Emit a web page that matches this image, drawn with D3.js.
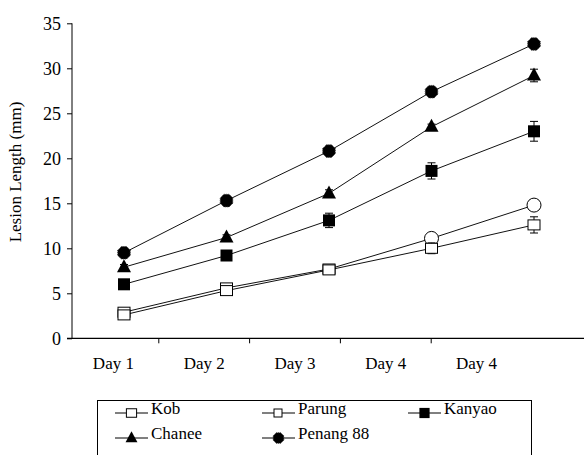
<html>
<head>
<script src="https://d3js.org/d3.v7.min.js"></script>
<style>
  body { margin: 0; background: #fff; }
  text { font-family: "Liberation Serif", "Times New Roman", serif; fill: #000; }
</style>
</head>
<body>
<script>
// data (mm)
var days = ["Day 1", "Day 2", "Day 3", "Day 4", "Day 4"];
var yTicks = [0, 5, 10, 15, 20, 25, 30, 35];

var seriesNames = ["Kob", "Parung", "Kanyao", "Chanee", "Penang 88"];
var kob      = [2.9, 5.6, 7.7, 11.1, 14.8];
var parung   = [2.6, 5.3, 7.6, 10.0, 12.6];
var kanyao   = [6.0, 9.2, 13.1, 18.6, 23.0];
var chanee   = [7.9, 11.2, 16.1, 23.5, 29.2];
var penang   = [9.5, 15.3, 20.8, 27.4, 32.7];

var kobErr    = [0.4, 0.4, 0.2, 0.4, 0.3];
var parungErr = [0.3, 0.4, 0.2, 0.6, 0.9];
var kanyaoErr = [0.3, 0.3, 0.8, 0.9, 1.1];
var chaneeErr = [0.3, 0.3, 0.4, 0.3, 0.7];
var penangErr = [0.4, 0.5, 0.4, 0.4, 0.4];

var allValues = [kob, parung, kanyao, chanee, penang];
var allErrors = [kobErr, parungErr, kanyaoErr, chaneeErr, penangErr];
var markers = ["openSquare", "openSquare", "square", "triangle", "octagon"];
// Kob's last two points use an open circle in the original
var kobPointMarkers = ["openSquare", "openSquare", "openSquare", "openCircle", "openCircle"];

var W = 584, H = 455;
var svg = d3.select("body").append("svg").attr("width", W).attr("height", H);

var y = d3.scaleLinear().domain([0, 35]).range([338.3, 23.3]);
var xAxisBand = d3.scaleBand().domain(d3.range(days.length)).range([68, 522]);
var xPts = d3.scalePoint().domain(d3.range(days.length)).range([124, 534]);

// y axis
var yAxis = svg.append("g").attr("transform", "translate(72,0)")
  .call(d3.axisLeft(y).tickValues(yTicks).tickSize(5).tickPadding(6));
yAxis.select(".domain").attr("stroke", "#000").attr("d", "M0," + y(35) + "V" + y(0));
yAxis.selectAll("text").style("font-size", "18px").attr("dy", "0.34em");

// x axis
var xg = svg.append("g").attr("transform", "translate(0," + y(0) + ")");
xg.append("line").attr("x1", 67).attr("x2", W).attr("stroke", "#000").attr("stroke-width", 1.2);
xg.selectAll("line.tick").data(d3.range(1, days.length)).enter().append("line")
  .attr("x1", function (d) { return xAxisBand(d); })
  .attr("x2", function (d) { return xAxisBand(d); })
  .attr("y1", 0).attr("y2", 5).attr("stroke", "#000");
xg.selectAll("text").data(days).enter().append("text")
  .attr("x", function (d, i) { return xAxisBand(i) + xAxisBand.bandwidth() / 2; })
  .attr("y", 31).attr("text-anchor", "middle").style("font-size", "17px")
  .text(function (d) { return d; });

svg.append("text")
  .attr("transform", "translate(21,172) rotate(-90)")
  .attr("text-anchor", "middle").style("font-size", "17px")
  .text("Lesion Length (mm)");

function drawMarker(g, type, cx, cy, s) {
  if (type === "openSquare") {
    g.append("rect").attr("x", cx - 6 * s).attr("y", cy - 5 * s).attr("width", 12 * s).attr("height", 10 * s)
      .attr("fill", "#fff").attr("stroke", "#000").attr("stroke-width", 1);
  } else if (type === "square") {
    g.append("rect").attr("x", cx - 6 * s).attr("y", cy - 6 * s).attr("width", 12 * s).attr("height", 12 * s)
      .attr("fill", "#000");
  } else if (type === "triangle") {
    g.append("path").attr("d", "M" + cx + "," + (cy - 8 * s) + "L" + (cx + 7 * s) + "," + (cy + 5 * s) +
      "L" + (cx - 7 * s) + "," + (cy + 5 * s) + "Z").attr("fill", "#000");
  } else if (type === "octagon") {
    var r = 6.8 * s, pts = d3.range(8).map(function (k) {
      var a = Math.PI / 8 + k * Math.PI / 4;
      return [cx + r * Math.cos(a), cy + r * Math.sin(a)];
    });
    g.append("path").attr("d", "M" + pts.join("L") + "Z").attr("fill", "#000")
      .attr("stroke", "#444").attr("stroke-width", 1).attr("stroke-dasharray", "1,1");
  } else if (type === "openCircle") {
    g.append("circle").attr("cx", cx).attr("cy", cy).attr("r", 7)
      .attr("fill", "#fff").attr("stroke", "#000").attr("stroke-width", 1);
  }
}

var line = d3.line().x(function (d, i) { return xPts(i); }).y(function (d) { return y(d); });

// draw series: lines first, then error bars and markers
allValues.forEach(function (vals) {
  svg.append("path").datum(vals).attr("d", line)
    .attr("fill", "none").attr("stroke", "#111").attr("stroke-width", 1);
});

allValues.forEach(function (vals, si) {
  var g = svg.append("g");
  vals.forEach(function (v, i) {
    var cx = xPts(i), e = allErrors[si][i];
    g.append("line").attr("x1", cx).attr("x2", cx).attr("y1", y(v - e)).attr("y2", y(v + e))
      .attr("stroke", "#000");
    [v - e, v + e].forEach(function (ev) {
      g.append("line").attr("x1", cx - 4).attr("x2", cx + 4).attr("y1", y(ev)).attr("y2", y(ev))
        .attr("stroke", "#000");
    });
    var type = si === 0 ? kobPointMarkers[i] : markers[si];
    drawMarker(g, type, cx, y(v), 1);
  });
});

// legend
var lg = svg.append("g");
lg.append("rect").attr("x", 97.5).attr("y", 400.5).attr("width", 434).attr("height", 70)
  .attr("fill", "#fff").attr("stroke", "#000").attr("stroke-width", 1);
var legendCols = [115, 262, 408];
var legendRows = [413, 438];
seriesNames.forEach(function (name, i) {
  var lx = legendCols[i % 3], ly = legendRows[Math.floor(i / 3)];
  lg.append("line").attr("x1", lx).attr("x2", lx + 33).attr("y1", ly).attr("y2", ly).attr("stroke", "#000");
  if (i === 1) {
    lg.append("rect").attr("x", lx + 12).attr("y", ly - 4).attr("width", 8).attr("height", 8)
      .attr("fill", "#fff").attr("stroke", "#000");
  } else {
    drawMarker(lg, markers[i], lx + 16.5, ly, 0.85);
  }
  lg.append("text").attr("x", lx + 36).attr("y", ly + 1).style("font-size", "17px").text(name);
});
</script>
</body>
</html>
